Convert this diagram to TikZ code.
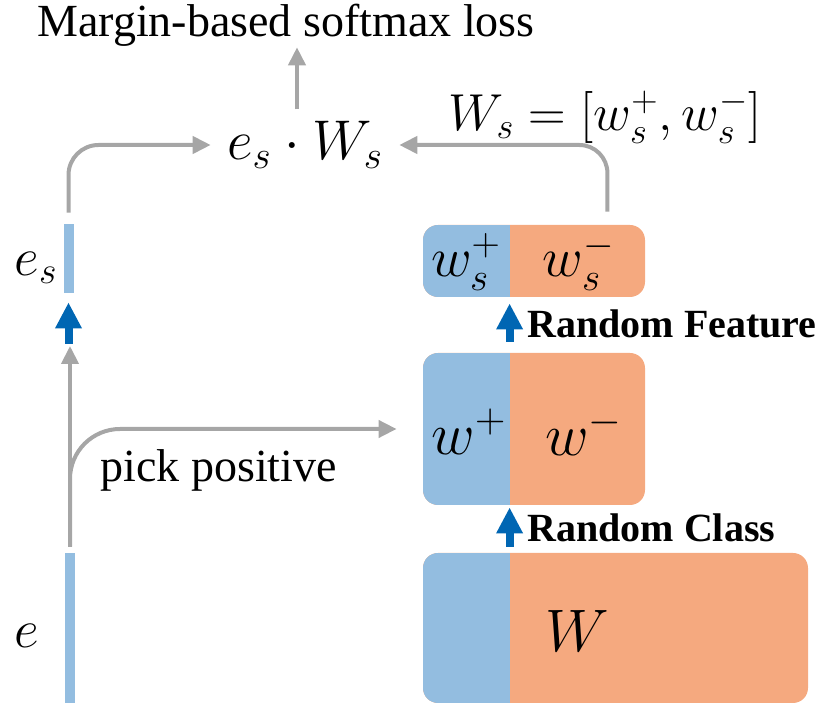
\RequirePackage{fix-cm}
\documentclass[tikz,border=0pt]{standalone}
\usepackage{fontspec}
\setmainfont{Liberation Serif}
\usetikzlibrary{arrows.meta}
\definecolor{bluefill}{HTML}{93BDE0}
\definecolor{orangefill}{HTML}{F5A97F}
\definecolor{bluearrowc}{HTML}{0066B3}
\definecolor{grayline}{HTML}{A6A6A6}
\begin{document}
\begin{tikzpicture}[x=0.5pt, y=-0.5pt,
  txt/.style={font=\fontsize{23}{26}\selectfont, inner sep=0pt},
  bold/.style={font=\fontsize{20}{24}\selectfont\bfseries, inner sep=0pt},
  mth/.style={font=\fontsize{#1}{#1}\selectfont, inner sep=0pt},
  bar/.style={fill=bluefill, minimum width=5pt, inner sep=0pt},
  mbox/.style={fill=orangefill, rounded corners=7.5pt, inner sep=0pt,
    path picture={\fill[bluefill, sharp corners] (path picture bounding box.north west) rectangle ([xshift=43.5pt]path picture bounding box.south west);}},
  grayarrow/.style={draw=grayline, line width=2pt, -{Triangle[width=8.5pt,length=9pt]}},
  bluearrow/.style={draw=bluearrowc, line width=4pt, -{Triangle[width=12.5pt,length=13pt]}}]
\useasboundingbox (0,0) rectangle (827,721);

% Loss and product
\node[txt, anchor=base] (loss) at (286,37) {Margin-based softmax loss};
\node[mth=28, inner xsep=8pt, inner ysep=6pt] (prod) at (305,145) {$e_s\cdot W_s$};
\node[mth=26] (wsdef) at (605,117) {$W_s=[w_s^+,w_s^-]$};

% Embeddings
\node[bar, minimum height=34.5pt] (esbar) at (68.5,258.5) {};
\node[bar, minimum height=75pt] (ebar) at (70,628) {};
\node[mth=27] (eslbl) at (36,268) {$e_s$};
\node[mth=27] (elbl) at (27,636) {$e$};
\coordinate (join) at (68.5,346);

% Class weights
\node[mbox, minimum width=111pt, minimum height=36pt] (ws) at (534,261) {};
\node[mbox, minimum width=111pt, minimum height=76pt] (wpn) at (534,429) {};
\node[mbox, minimum width=192.5pt, minimum height=75pt] (wall) at (615.5,628) {};
\node[mth=28] (wsp) at (466,262) {$w_s^+$};
\node[mth=28] (wsn) at (579,262) {$w_s^-$};
\node[mth=30] (wp) at (469,432) {$w^+$};
\node[mth=30] (wn) at (584,432) {$w^-$};
\node[mth=30] (wlbl) at (577,631) {$W$};

% Labels
\node[bold, anchor=base west] (rfeat) at (527,338) {Random Feature};
\node[bold, anchor=base west] (rclass) at (527,542) {Random Class};
\node[txt, anchor=base west] (pick) at (100,482) {pick positive};

% Connectors
\draw[grayarrow] ([xshift=-4pt]prod.north) -- ([xshift=-4pt]prod.north |- loss.south);
\draw[grayarrow, rounded corners=15pt, shorten <=5.5pt] (esbar.north) |- (prod.west);
\draw[grayarrow, rounded corners=14pt, shorten <=6.5pt] ([xshift=-19pt]ws.north east) |- (prod.east);
\draw[grayarrow, shorten <=3pt] (ebar.north) -- (ebar.north |- join);
\draw[grayarrow, rounded corners=25pt, shorten <=3pt, shorten >=13pt] (ebar.north) |- (wpn.west);
\draw[bluearrow, shorten <=1pt, shorten >=4.5pt] (join) -- (esbar.south);
\draw[bluearrow, shorten <=5.5pt, shorten >=3pt] ([xshift=43.5pt]wpn.north west) -- ([xshift=43.5pt]ws.south west);
\draw[bluearrow, shorten <=3pt, shorten >=1pt] ([xshift=43.5pt]wall.north west) -- ([xshift=43.5pt]wpn.south west);
\end{tikzpicture}
\end{document}
